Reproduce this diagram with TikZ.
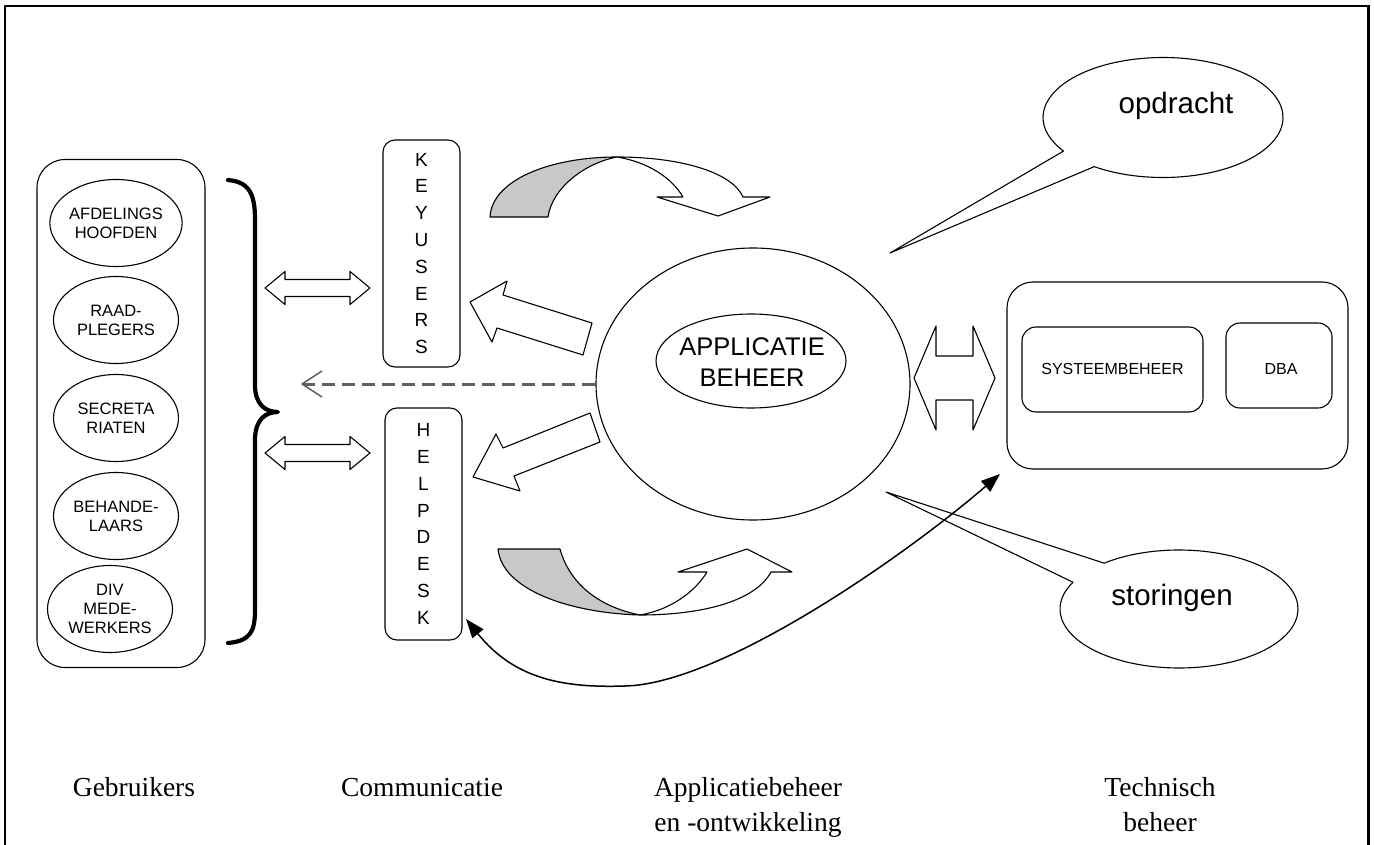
\documentclass[tikz,border=0pt]{standalone}
\usepackage{fontspec}
\setmainfont{Liberation Serif}
\newfontfamily\arialfam{Liberation Sans}
\usetikzlibrary{shapes.geometric,arrows.meta,calc}
\definecolor{bandgray}{RGB}{200,200,200}
\definecolor{dashgray}{RGB}{95,95,95}
\begin{document}
\begin{tikzpicture}[x=1pt,y=-1pt,line join=round,
  outl/.style={draw=black,line width=1.1pt},
  userell/.style={ellipse,outl,minimum width=125pt,minimum height=87pt,inner sep=0pt,align=center,
    font=\arialfam\fontsize{16.5}{19}\selectfont},
  commbox/.style={rectangle,rounded corners=12pt,outl,minimum width=77pt,inner sep=0pt,align=center,
    font=\arialfam\fontsize{19}{26.8}\selectfont},
  techsub/.style={rectangle,rounded corners=14pt,outl,minimum height=85pt,inner sep=0pt},
  techtext/.style={font=\arialfam\fontsize{16}{18}\selectfont,inner sep=0pt},
  blockarrow/.style={outl,fill=white},
  bandshape/.style={outl,fill=bandgray},
  bubbletext/.style={font=\arialfam\fontsize{29.5}{32}\selectfont,anchor=base,inner sep=0pt},
  collabel/.style={font=\fontsize{27.5}{34}\selectfont,anchor=base,inner sep=0pt}]
\useasboundingbox (0,0) rectangle (1374,845);
% frame
\draw[line width=2pt] (5,845) -- (5,6) -- (1368,6);
\draw[line width=3pt] (1368,5) -- (1368,845);

% Gebruikers column
\node[rectangle,rounded corners=28pt,outl,minimum width=168pt,minimum height=508pt] (gebr) at (121,413.5) {};
\node[userell] (afd) at (116,223) {AFDELINGS\\HOOFDEN};
\node[userell] (raad) at (116,320) {RAAD-\\PLEGERS};
\node[userell] (secr) at (116,418) {SECRETA\\RIATEN};
\node[userell] (beh) at (116,516) {BEHANDE-\\LAARS};
\node[userell] (div) at (110,609) {DIV\\MEDE-\\WERKERS};

% brace
\draw[line width=4.2pt,line cap=round] (228,180) .. controls (250,182) and (255,195) .. (255,220)
  -- (255,385) .. controls (255,404) and (265,412) .. (278,412)
  .. controls (265,412) and (255,420) .. (255,440)
  -- (255,610) .. controls (255,632) and (250,641) .. (228,643);

% left double arrows
\foreach \yy in {288,453}{
  \draw[blockarrow,shift={(0,\yy)}] (265,0) -- (285,-16.5) -- (285,-8.5) -- (350,-8.5) -- (350,-16.5)
    -- (370,0) -- (350,16.5) -- (350,8.5) -- (285,8.5) -- (285,16.5) -- cycle;
}

% communication boxes
\node[commbox,minimum height=227pt] (key) at (421.5,253.5) {K\\E\\Y\\U\\S\\E\\R\\S};
\node[commbox,minimum height=232pt] (help) at (423.5,524) {H\\E\\L\\P\\D\\E\\S\\K};

% application management
\node[ellipse,outl,minimum width=314pt,minimum height=272pt,inner sep=0pt] (app) at (753,384) {};
\node[ellipse,outl,minimum width=190pt,minimum height=94pt,inner sep=0pt] (appin) at (751,361) {};
\node[align=center,inner sep=0pt,font=\arialfam\fontsize{25.5}{31}\selectfont] (apptext) at (752,362) {APPLICATIE\\BEHEER};

% dashed arrow
\coordinate (dtip) at (302,384);
\draw[dashgray,line width=3pt,dash pattern=on 13pt off 7pt] (app.west) -- ($(dtip)+(2,0)$);
\draw[dashgray,line width=1.5pt] ($(dtip)+(20,-13)$) -- (dtip) -- ($(dtip)+(20,13)$);

% block arrows from application to communication
\draw[blockarrow] (470,302) -- (507,281) -- (503,295) -- (592,323) -- (583,355) -- (497,328) -- (492,342) -- cycle;
\draw[blockarrow] (473,477) -- (496,434) -- (503,448) -- (590,413) -- (600,442) -- (514,476) -- (520,491) -- cycle;

% top curved arrow
\draw[bandshape] (490,217) .. controls (492,180) and (550,157) .. (617,157)
  .. controls (585,163) and (552,188) .. (548,217) -- cycle;
\draw[blockarrow] (617,157) .. controls (680,157) and (732,172) .. (743,197) -- (770,197) -- (718,216)
  -- (657,197) -- (683,197) .. controls (672,178) and (648,162) .. (617,157) -- cycle;

% bottom curved arrow
\draw[bandshape] (498,549) -- (560,549) .. controls (570,585) and (600,607) .. (640,615)
  .. controls (570,613) and (502,590) .. (498,549) -- cycle;
\draw[blockarrow] (640,615) .. controls (670,610) and (695,592) .. (707,572) -- (678,572) -- (747,549)
  -- (792,572) -- (771,572) .. controls (755,602) and (700,615) .. (640,615) -- cycle;

% right double arrow
\draw[blockarrow] (914,378) -- (936,326) -- (936,356) -- (973,356) -- (973,326) -- (995,378)
  -- (973,430) -- (973,400) -- (936,400) -- (936,430) -- cycle;

% technical management
\node[rectangle,rounded corners=26pt,outl,minimum width=341pt,minimum height=187pt] (tech) at (1177.5,375.5) {};
\node[techsub,minimum width=181pt] (sys) at (1112.5,369.5) {};
\node[techtext] (systext) at (1112.5,369) {SYSTEEMBEHEER};
\node[techsub,minimum width=106pt] (dba) at (1279,365.5) {};
\node[techtext] (dbatext) at (1281,369) {DBA};

% speech bubbles
\coordinate (optip) at (890,253);
\draw[outl,fill=white] ([shift={(1163,117.5)}]125:120 and 60)
  arc[start angle=125,end angle=-214,x radius=120,y radius=60] -- (optip) -- cycle;
\node[bubbletext] (opd) at (1176,114) {opdracht};
\coordinate (sttip) at (886,492);
\draw[outl,fill=white] ([shift={(1179,609)}]231:119 and 59)
  arc[start angle=231,end angle=567,x radius=119,y radius=59] -- (sttip) -- cycle;
\node[bubbletext] (sto) at (1172,605) {storingen};

% long curved double-headed arrow
\coordinate (hdend) at (466,619);
\coordinate (tbend) at (1000,474);
\draw[line width=1.5pt,{Triangle[length=19pt,width=14pt]}-{Triangle[length=19pt,width=14pt]}]
  (hdend) .. controls (515,680) and (565,688) .. (625,686) .. controls (720,684) and (900,560) .. (tbend);

% column labels
\node[collabel] (lgebr) at (134,796) {Gebruikers};
\node[collabel] (lcomm) at (422,796) {Communicatie};
\node[collabel] (lapp1) at (748,796) {Applicatiebeheer};
\node[collabel] (lapp2) at (748,831) {en -ontwikkeling};
\node[collabel] (ltech1) at (1160,796) {Technisch};
\node[collabel] (ltech2) at (1160,831) {beheer};
\end{tikzpicture}
\end{document}
